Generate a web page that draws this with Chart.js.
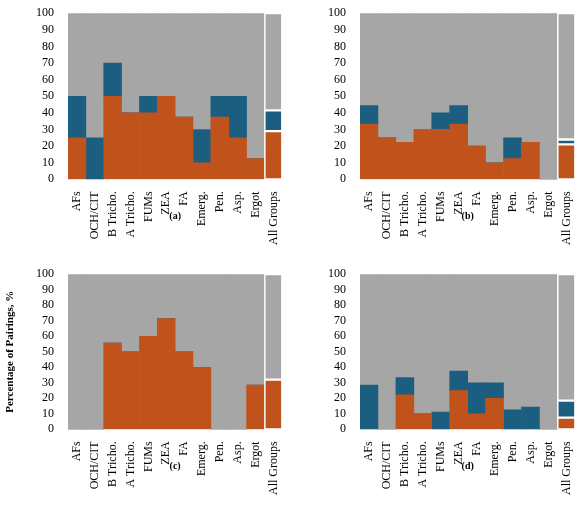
<!DOCTYPE html>
<html><head><meta charset="utf-8">
<script src="https://cdn.jsdelivr.net/npm/chart.js@4"></script>
<style>
body{margin:0;background:#fff;}
.g{display:grid;grid-template-columns:292px 293px;grid-template-rows:261px 250px;width:585px;height:511px;}
.c{position:relative;}
</style></head><body>
<div class="g">
<div class="c"><canvas id="a"></canvas></div>
<div class="c"><canvas id="b"></canvas></div>
<div class="c"><canvas id="c"></canvas></div>
<div class="c"><canvas id="d"></canvas></div>
</div>
<script>
const categories=["AFs","OCH/CIT","B Tricho.","A Tricho.","FUMs","ZEA","FA","Emerg.","Pen.","Asp.","Ergot","All Groups"];
const yTicks=[0,10,20,30,40,50,60,70,80,90,100];
const orangeA=[25,0,50,40,40,50,37.5,10,37.5,25,12.5,29];
const blueA=[25,25,20,0,10,0,0,20,12.5,25,0,12.5];
const orangeB=[33.3,25,22.2,30,30,33.3,20,10,12.5,22.2,0,21];
const blueB=[11.1,0,0,0,10,11.1,0,0,12.5,0,0,3];
const orangeC=[0,0,55.6,50,60,71.4,50,40,0,0,28.6,32];
const blueC=[0,0,0,0,0,0,0,0,0,0,0,0];
const orangeD=[0,0,22.2,10,0,25,10,20,0,0,0,7.5];
const blueD=[28.6,0,11.1,0,11.1,12.5,20,10,12.5,14.3,0,11];
const F="'Liberation Serif', serif";
const capPlugin={id:'cap',afterDraw(ch,args,opts){const c=ch.ctx,a=ch.chartArea;c.save();c.font="bold 10px "+F;c.fillStyle='#000';c.textAlign='center';c.textBaseline='middle';c.fillText(opts.text,(a.left+a.right)/2,a.bottom+37);c.restore();}};
function mk(id,o,b,cap,yTitle){
  const gray=o.map((v,i)=>100-v-b[i]);
  const bw=categories.map((c,i)=>i===categories.length-1?1.5:0);
  const ds=(data,col)=>({data,backgroundColor:col,borderColor:'#ffffff',borderWidth:bw,borderSkipped:false,barPercentage:1,categoryPercentage:1});
  new Chart(document.getElementById(id),{type:'bar',plugins:[capPlugin],
   data:{labels:categories,datasets:[ds(o,'#c0531b'),ds(b,'#1b5e80'),ds(gray,'#a6a6a6')]},
   options:{responsive:true,maintainAspectRatio:false,animation:false,
    layout:{padding:{top:1,right:6,left:0,bottom:12}},
    plugins:{legend:{display:false},tooltip:{enabled:false},title:{display:false},cap:{text:cap}},
    scales:{
     x:{stacked:true,grid:{display:false},border:{display:false},
        ticks:{color:'#000',font:{family:F,size:12},minRotation:90,maxRotation:90,autoSkip:false,padding:4}},
     y:{stacked:true,min:0,max:100,grid:{display:false},border:{display:false},
        afterFit:s=>{s.width=68;},
        afterBuildTicks:s=>{s.ticks=yTicks.map(v=>({value:v}));},
        ticks:{color:'#000',font:{family:F,size:12},padding:6,autoSkip:false},
        title:{display:!!yTitle,text:yTitle||'',color:'#000',font:{family:F,size:11,weight:'bold'},padding:{bottom:4}}}
    }}});
}
mk('a',orangeA,blueA,'(a)');
mk('b',orangeB,blueB,'(b)');
mk('c',orangeC,blueC,'(c)','Percentage of Pairings, %');
mk('d',orangeD,blueD,'(d)');
</script></body></html>
